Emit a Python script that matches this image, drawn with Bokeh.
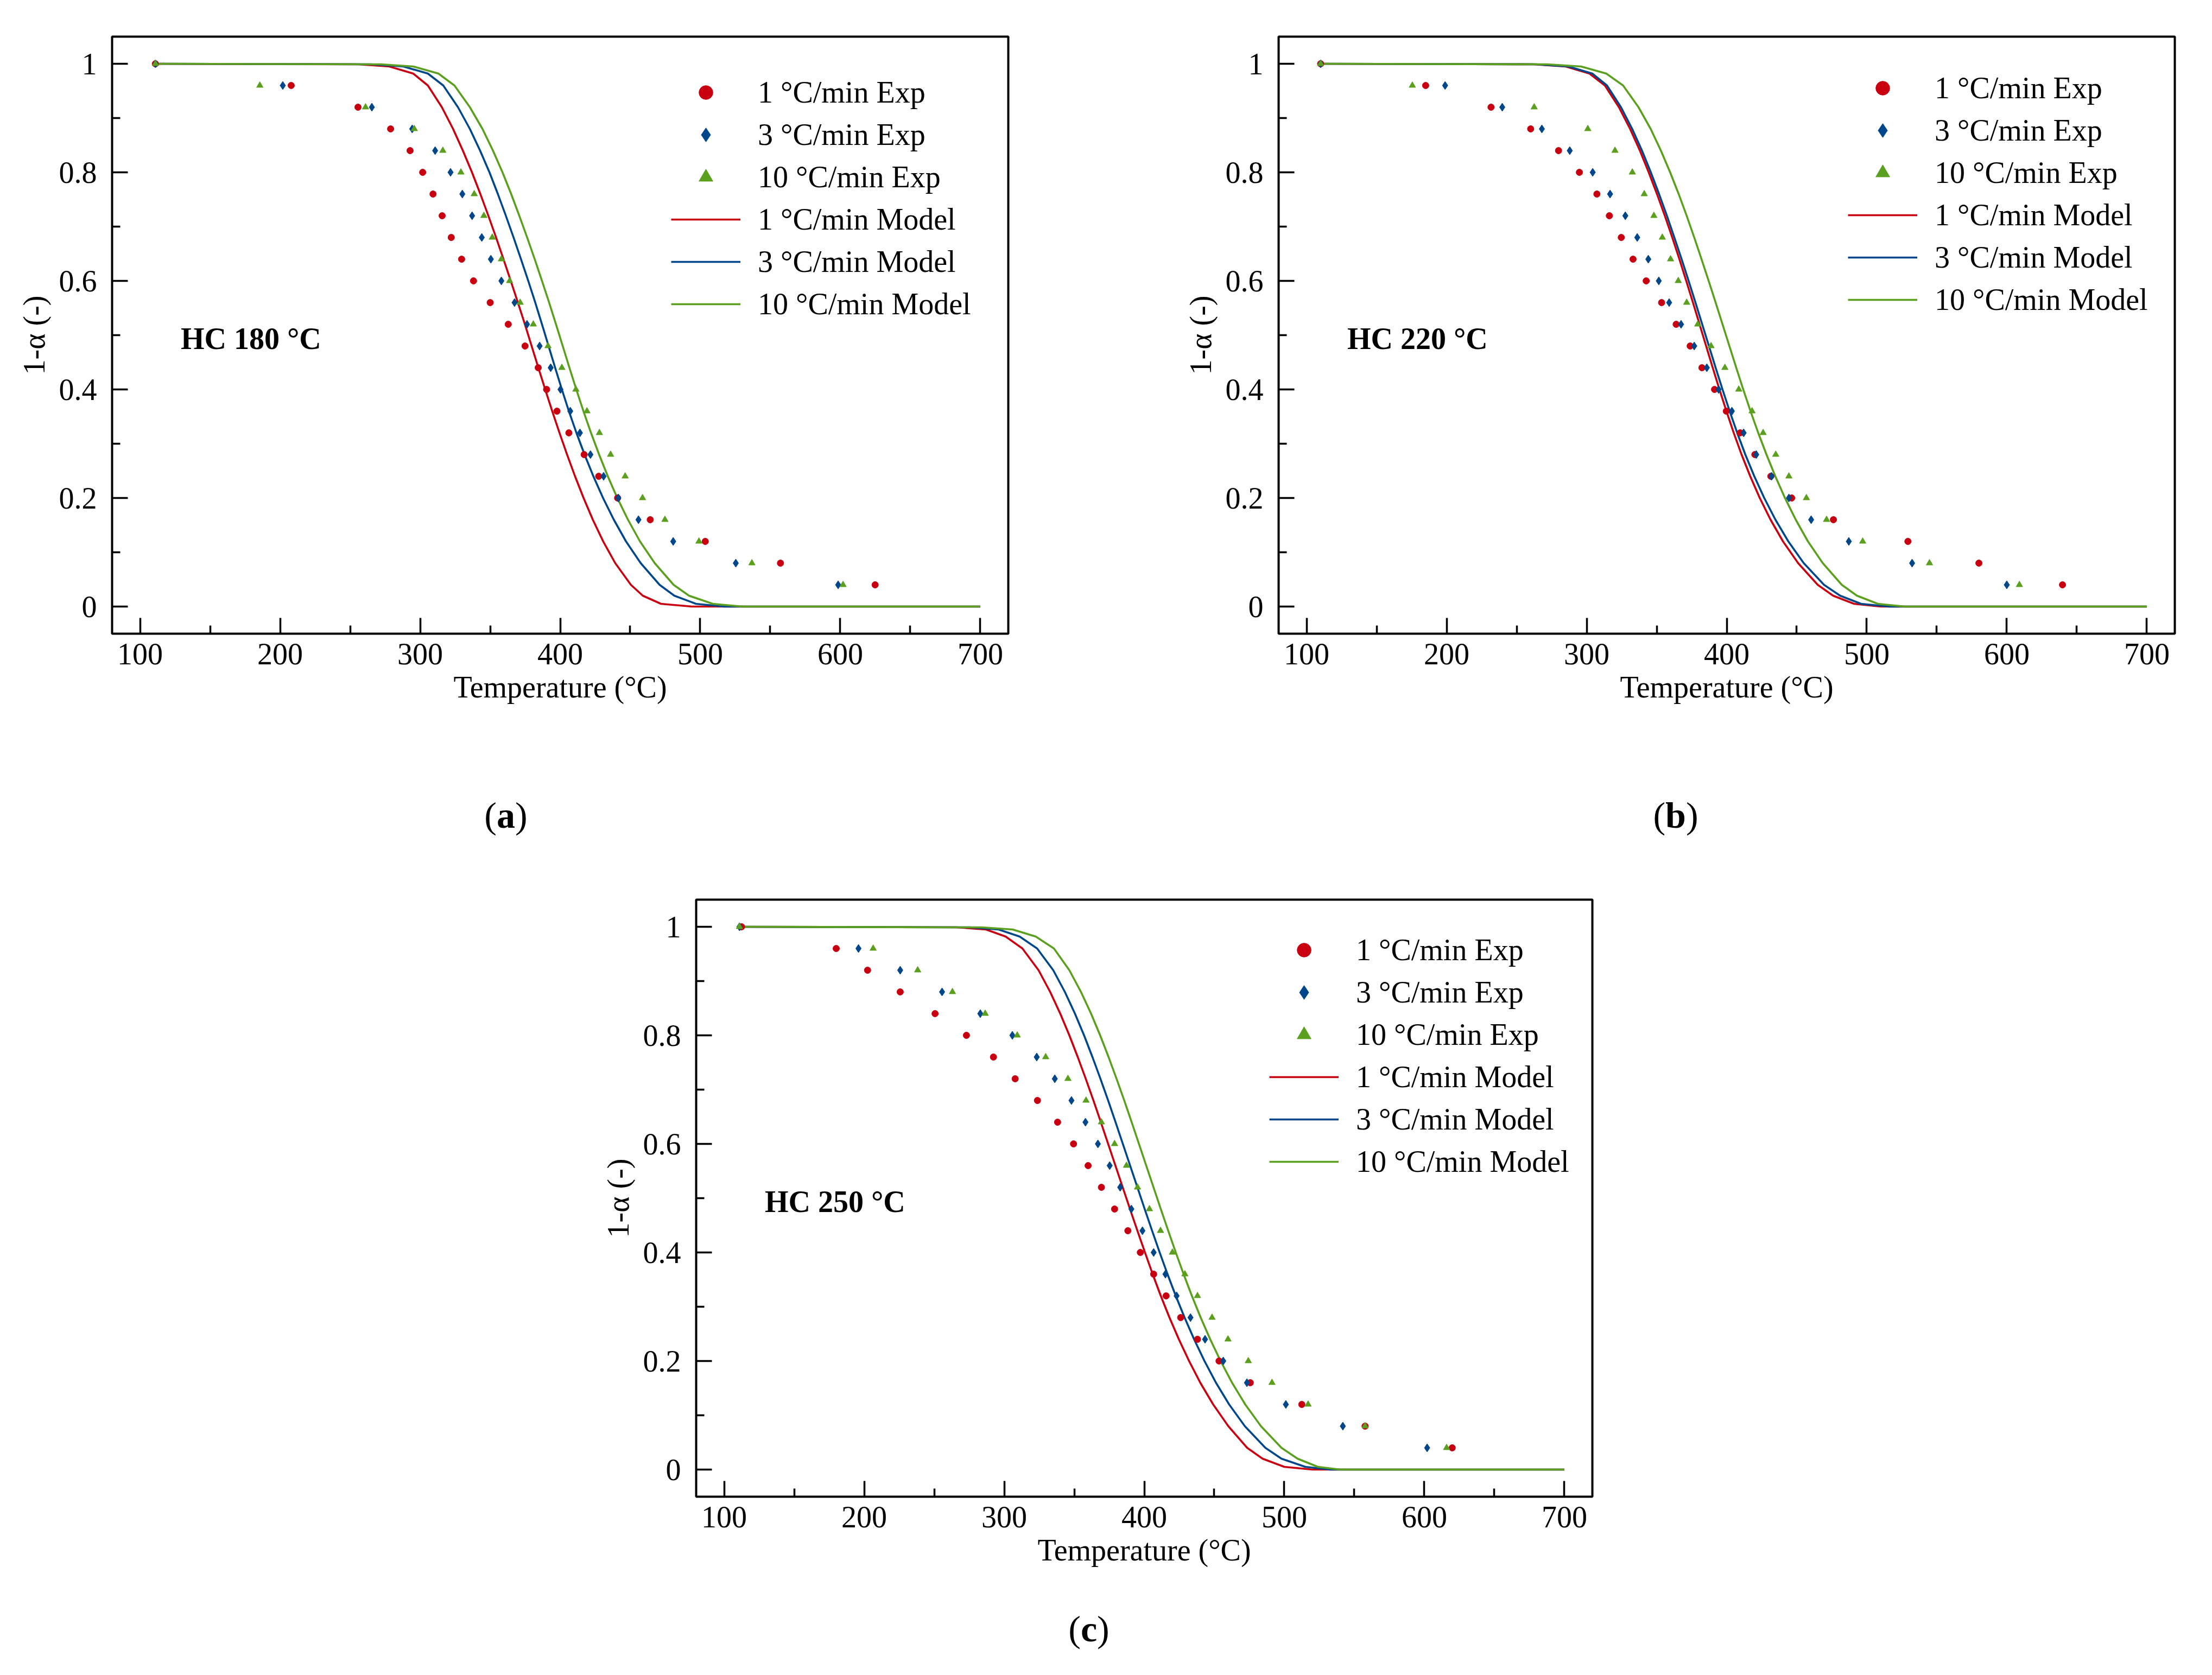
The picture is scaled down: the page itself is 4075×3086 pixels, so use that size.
from bokeh.plotting import figure
from bokeh.layouts import column, row
from bokeh.models import FixedTicker, Legend, LegendItem, Spacer, Div
from bokeh.core.properties import value
from bokeh.embed import file_html
from bokeh.resources import INLINE

FONT = "Liberation Serif"
RED = "#C8000F"
BLUE = "#00468B"
GREEN = "#5AA01E"

# tick setup
x_ticks = [100, 200, 300, 400, 500, 600, 700]
x_minor = [150, 250, 350, 450, 550, 650]
y_ticks = [0, 0.2, 0.4, 0.6, 0.8, 1]
y_tick_labels = ["0", "0.2", "0.4", "0.6", "0.8", "1"]
y_minor = [0.1, 0.3, 0.5, 0.7, 0.9]

series_names = ["1 °C/min Exp", "3 °C/min Exp", "10 °C/min Exp",
                "1 °C/min Model", "3 °C/min Model", "10 °C/min Model"]

# experimental points: 1-alpha levels, temperatures read per heating rate
exp_y = [1.0, 0.96, 0.92, 0.88, 0.84, 0.80, 0.76, 0.72, 0.68, 0.64, 0.60, 0.56, 0.52,
         0.48, 0.44, 0.40, 0.36, 0.32, 0.28, 0.24, 0.20, 0.16, 0.12, 0.08, 0.04]

a_exp_1 = [110.9, 207.9, 255.6, 278.9, 292.8, 301.8, 309.2, 315.7, 322.2, 329.6, 338.1, 350.0, 362.9,
           374.9, 384.3, 390.3, 397.7, 406.2, 417.1, 427.5, 441.0, 464.3, 503.6, 557.3, 624.9]
a_exp_3 = [111, 201.9, 265.5, 294.3, 310.7, 321.7, 330.1, 337.1, 344.0, 350.5, 358.0, 367.4, 376.3,
           385.3, 393.2, 400.2, 407.2, 414.1, 421.6, 431.0, 441.5, 455.9, 480.7, 525.4, 598.5]
a_exp_10 = [111, 185.5, 261.0, 295.8, 316.2, 329.1, 338.6, 345.5, 351.5, 358.0, 363.9, 371.4, 380.8,
            391.3, 401.2, 411.2, 419.1, 428.0, 436.0, 446.4, 458.8, 474.8, 499.1, 536.9, 602.0]

b_exp_1 = [110, 185, 231.7, 260, 279.9, 294.8, 307.3, 316.2, 324.7, 333.1, 342.5, 353.5, 363.9,
           373.9, 382.3, 391.3, 399.7, 409.6, 420.1, 431.5, 446.4, 476.2, 529.4, 580.1, 639.8]
b_exp_3 = [110, 198.9, 239.7, 268, 287.9, 304.3, 316.7, 327.6, 336.1, 344, 351.5, 358.9, 367.4,
           376.8, 385.8, 394.2, 403.7, 412.1, 421.1, 432, 444.4, 460.3, 487.2, 532.4, 600]
b_exp_10 = [110, 175.5, 262.5, 300.8, 320.2, 332.6, 341.1, 348, 354, 359.9, 365.4, 371.4, 379.3,
            388.8, 398.7, 408.6, 418.1, 426, 435, 444.4, 456.9, 471.3, 497.1, 544.8, 609]

c_exp_1 = [112.4, 180, 202.4, 225.7, 250.6, 273, 292.3, 307.8, 323.7, 338.1, 349.5, 359.9, 369.4,
           378.8, 388.3, 397.2, 406.7, 415.6, 426, 438, 453.4, 475.7, 512.5, 557.7, 619.9]
c_exp_3 = [110.9, 195.9, 225.7, 255.6, 282.9, 305.8, 323.2, 336.1, 348, 358, 366.9, 375.3, 382.8,
           390.8, 398.7, 406.7, 415.1, 423.1, 433, 443.4, 456.4, 473.3, 501.1, 541.8, 602]
c_exp_10 = [110.9, 206.4, 238.2, 263, 286.4, 309.3, 329.6, 345.5, 358.4, 369.4, 378.8, 387.3, 395.2,
            403.7, 411.6, 420.1, 429, 438, 448.4, 459.8, 474.3, 491.2, 517, 557.7, 615.9]

# model curves: 1-alpha levels and the temperature read at each level
model_y = [1.0, 0.999, 0.995, 0.982, 0.96, 0.92, 0.88, 0.84, 0.80, 0.76, 0.72, 0.68, 0.64, 0.60,
           0.56, 0.52, 0.48, 0.44, 0.40, 0.36, 0.32, 0.28, 0.24, 0.20, 0.16, 0.12, 0.08, 0.04,
           0.02, 0.005, 0.0, 0.0]

a_mod_1 = [110, 256, 278, 295, 305.5, 315.5, 323.5, 330.5, 337, 343, 348.7, 354.2, 359.5, 364.7, 369.8,
           374.8, 379.6, 384.4, 389.3, 394.3, 399.5, 404.9, 410.6, 416.7, 423.3, 430.7, 439.3, 450.5,
           459, 472, 494, 700]
a_mod_3 = [110, 265, 288, 305.5, 316.5, 327, 335.5, 342.8, 349.5, 355.5, 361.2, 366.7, 372, 377.2, 382.2,
           387, 391.7, 396.4, 401.2, 406.2, 411.6, 417.4, 423.7, 430.6, 438.3, 447, 457.5, 471,
           481.5, 497, 517, 700]
a_mod_10 = [110, 272, 295, 313, 324.5, 335.5, 344.5, 352, 358.8, 365, 370.8, 376.4, 381.8, 387, 392.1,
            397, 401.8, 406.6, 411.5, 416.6, 422, 427.8, 434, 440.8, 448.4, 457, 467.5, 481,
            492, 509, 530, 700]

b_mod_1 = [110, 262, 285, 302, 313, 323, 331, 338, 344.3, 350.2, 355.8, 361.1, 366.2, 371.1, 375.9,
           380.6, 385.3, 390, 394.8, 399.8, 405, 410.6, 416.8, 423.6, 431.3, 440.2, 451, 465,
           476, 491, 510, 700]
b_mod_3 = [110, 264, 287, 304, 314.5, 324.5, 332.5, 339.5, 345.8, 351.7, 357.3, 362.6, 367.8, 372.8, 377.7,
           382.5, 387.3, 392.1, 397, 402.1, 407.5, 413.3, 419.7, 426.8, 434.8, 444, 455, 469.5,
           481, 496, 516, 700]
b_mod_10 = [110, 272, 296, 314, 326, 337, 345.7, 353, 359.6, 365.7, 371.4, 376.8, 382, 387.1, 392.1,
            397, 401.9, 406.8, 411.8, 417, 422.5, 428.4, 434.7, 441.6, 449.3, 458, 468.6, 482.2,
            493, 508, 527, 700]

c_mod_1 = [110, 266, 287, 301, 313, 324.5, 332.8, 340, 346.5, 352.5, 358.2, 363.7, 369, 374.2, 379.4,
           384.6, 389.8, 395.1, 400.5, 406, 411.8, 418, 424.7, 432, 440, 449.2, 460, 473.5,
           484.5, 500, 520, 700]
c_mod_3 = [110, 275, 296, 311, 323.5, 335, 343.3, 350.5, 357, 363, 368.7, 374.2, 379.5, 384.7, 389.9,
           395.1, 400.3, 405.6, 411, 416.6, 422.5, 428.8, 435.6, 443, 451.2, 460.6, 471.8, 486.5,
           498, 515, 533, 700]
c_mod_10 = [110, 284, 306, 322.5, 335.5, 346.5, 354.8, 362, 368.5, 374.5, 380.2, 385.7, 391, 396.2, 401.4,
            406.6, 411.8, 417.1, 422.5, 428.1, 434, 440.3, 447.1, 454.5, 462.7, 472.1, 483.3, 498,
            509.5, 524, 540, 700]


def make_panel(hc_text, exp1, exp3, exp10, mod1, mod3, mod10, width, right, legend_xy):
    p = figure(width=width, height=1347, x_range=(80, 720), y_range=(-0.05, 1.05),
               output_backend="svg", toolbar_location=None,
               min_border_left=206, min_border_right=right,
               min_border_top=67, min_border_bottom=180)
    p.grid.visible = False
    p.outline_line_color = "black"
    p.outline_line_width = 4
    p.outline_line_alpha = 1

    p.xaxis.ticker = FixedTicker(ticks=x_ticks, minor_ticks=x_minor)
    p.yaxis.ticker = FixedTicker(ticks=y_ticks, minor_ticks=y_minor)
    p.yaxis.major_label_overrides = {t: s for t, s in zip(y_ticks, y_tick_labels)}
    p.xaxis.axis_label = "Temperature (°C)"
    p.yaxis.axis_label = "1-α (-)"
    for ax in (p.xaxis[0], p.yaxis[0]):
        ax.axis_line_color = None
        ax.major_tick_in = 29
        ax.major_tick_out = 0
        ax.minor_tick_in = 15
        ax.minor_tick_out = 0
        ax.major_tick_line_width = 3.5
        ax.minor_tick_line_width = 3.5
        ax.major_tick_line_color = "black"
        ax.minor_tick_line_color = "black"
        ax.major_label_text_font = FONT
        ax.major_label_text_font_size = "56px"
        ax.major_label_text_color = "black"
        ax.axis_label_text_font = FONT
        ax.axis_label_text_font_size = "56px"
        ax.axis_label_text_font_style = "normal"
        ax.axis_label_text_color = "black"
    p.xaxis.major_label_standoff = 18
    p.xaxis.axis_label_standoff = 8
    p.yaxis.major_label_standoff = 28
    p.yaxis.axis_label_standoff = 12

    l1 = p.line(mod1, model_y, color=RED, line_width=3.6)
    l3 = p.line(mod3, model_y, color=BLUE, line_width=3.6)
    l10 = p.line(mod10, model_y, color=GREEN, line_width=3.6)

    s1 = p.scatter(exp1, exp_y, marker="circle", size=12, color=RED)
    s3 = p.scatter(exp3, exp_y, marker="diamond", size=15, color=BLUE)
    s10 = p.scatter(exp10, exp_y, marker="triangle", size=12, color=GREEN)

    p.text(x=[129], y=[0.494], text=[hc_text], text_font=value(FONT), text_font_style="bold",
           text_font_size="56px", text_baseline="middle", text_align="left", text_color="black")

    items = [LegendItem(label=n, renderers=[r]) for n, r in
             zip(series_names, [s1, s3, s10, l1, l3, l10])]
    leg = Legend(items=items, location=legend_xy)
    leg.label_text_font = FONT
    leg.label_text_font_size = "56px"
    leg.label_text_color = "black"
    leg.glyph_width = 128
    leg.glyph_height = 64
    leg.label_height = 64
    leg.label_standoff = 32
    leg.spacing = 14
    leg.padding = 0
    leg.margin = 0
    leg.border_line_color = None
    leg.background_fill_alpha = 0
    p.add_layout(leg)
    return p


def tag_div(letter):
    html = ('<div style="width: 200px; font-family: \'%s\'; font-size: 68px; line-height: 80px; '
            'text-align: center; color: black;">(<b>%s</b>)</div>' % (FONT, letter))
    return Div(text=html, width=200, height=80, margin=0)


pa = make_panel("HC 180 °C", a_exp_1, a_exp_3, a_exp_10, a_mod_1, a_mod_3, a_mod_10,
                2149, 292, (1030, 575))
pb = make_panel("HC 220 °C", b_exp_1, b_exp_3, b_exp_10, b_mod_1, b_mod_3, b_mod_10,
                1905, 48, (1049, 583))
pc = make_panel("HC 250 °C", c_exp_1, c_exp_3, c_exp_10, c_mod_1, c_mod_3, c_mod_10,
                1905, 48, (1056, 585))

page = column(
    row(pa, pb),
    Spacer(height=115),
    row(Spacer(width=832, height=80), tag_div("a"), Spacer(width=1955, height=80), tag_div("b")),
    Spacer(height=48),
    row(Spacer(width=1076, height=1347), pc),
    Spacer(height=24),
    row(Spacer(width=1906, height=80), tag_div("c")),
)

open("out.html", "w").write(file_html(page, INLINE))
